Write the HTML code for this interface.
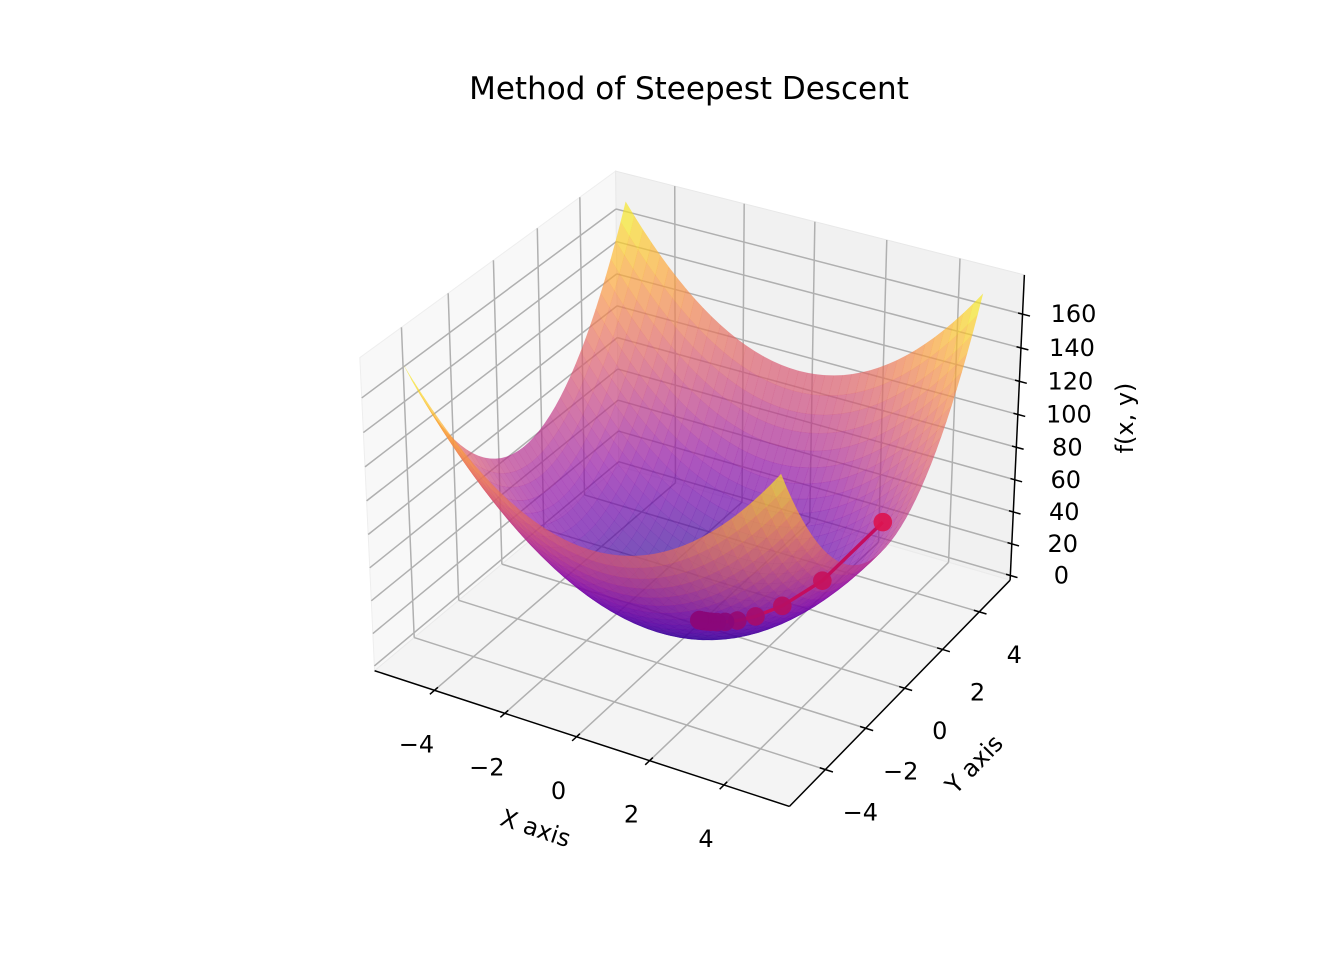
<!DOCTYPE html>
<html><head><meta charset="utf-8"><title>Method of Steepest Descent</title>
<style>html,body{margin:0;padding:0;background:#fff;}svg{display:block;font-family:"DejaVu Sans","Liberation Sans",sans-serif;}</style>
</head><body>
<svg id="chart" xmlns="http://www.w3.org/2000/svg" width="1344" height="960" viewBox="0 0 1344 960">
<rect x="0" y="0" width="1344" height="960" fill="#ffffff"/>
<text x="689" y="99" font-size="31" text-anchor="middle" fill="#000">Method of Steepest Descent</text>
<g id="panes"></g>
<g id="grid"></g>
<g id="surface"></g>
<g id="axes"></g>
<g id="path"></g>
<text x="0" y="0" font-size="24" text-anchor="middle" transform="translate(533,836) rotate(18.4)">X axis</text>
<text x="0" y="0" font-size="24" text-anchor="middle" transform="translate(980,770) rotate(-46)">Y axis</text>
<text x="0" y="0" font-size="24" text-anchor="middle" transform="translate(1133,418) rotate(-90)">f(x, y)</text>
</svg>
<script>
// ---- data ----
const xTicks = [-4, -2, 0, 2, 4];
const yTicks = [-4, -2, 0, 2, 4];
const zTicks = [0, 20, 40, 60, 80, 100, 120, 140, 160];
const coefX = [3];
const coefY = [4];
const pathX = [4, 2.8, 1.96, 1.372, 0.960, 0.672, 0.471, 0.329, 0.231, 0.161, 0.113, 0.079, 0.055, 0.039, 0.027];
const pathY = [2, 1.2, 0.72, 0.432, 0.259, 0.156, 0.093, 0.056, 0.034, 0.020, 0.012, 0.007, 0.004, 0.003, 0.002];
const gridMin = [-5];
const gridMax = [5];

const NS = "http://www.w3.org/2000/svg";
const X0 = -5.73, X1 = 5.73, Y0 = -5.73, Y1 = 5.73, Z0 = -3, Z1 = 183;
function f(x, y) { return coefX[0] * x * x + coefY[0] * y * y; }

// ---- projection (matplotlib-like, elev 30, azim -60) ----
const E = 30 * Math.PI / 180, A = -60 * Math.PI / 180;
const BX = 1.19, BY = 1.19, BZ = 0.893;
const V = [Math.cos(E) * Math.cos(A), Math.cos(E) * Math.sin(A), Math.sin(E)];
const C = [BX / 2, BY / 2, BZ / 2];
const EYE = [C[0] + 10 * V[0], C[1] + 10 * V[1], C[2] + 10 * V[2]];
let U = [-V[1], V[0], 0]; { const n = Math.hypot(U[0], U[1]); U = [U[0] / n, U[1] / n, 0]; }
const W = [V[1] * U[2] - V[2] * U[1], V[2] * U[0] - V[0] * U[2], V[0] * U[1] - V[1] * U[0]];
function raw(x, y, z) {
  const p = [(x - X0) / (X1 - X0) * BX, (y - Y0) / (Y1 - Y0) * BY, (z - Z0) / (Z1 - Z0) * BZ];
  const d = [p[0] - EYE[0], p[1] - EYE[1], p[2] - EYE[2]];
  const depth = -(d[0] * V[0] + d[1] * V[1] + d[2] * V[2]);
  return [(d[0] * U[0] + d[1] * U[1]) / depth, (d[0] * W[0] + d[1] * W[1] + d[2] * W[2]) / depth, depth];
}
const refs = [
  [[X0, Y0, Z0], [374, 672]], [[X1, Y0, Z0], [790, 806]], [[X1, Y1, Z0], [1010, 580]],
  [[X1, Y1, Z1], [1024, 275]], [[X0, Y0, Z1], [360, 356]], [[X0, Y1, Z1], [616, 172]]
];
function solve3(M, b) {
  const a = M.map((r, i) => r.concat([b[i]]));
  for (let i = 0; i < 3; i++) {
    let p = i; for (let k = i + 1; k < 3; k++) if (Math.abs(a[k][i]) > Math.abs(a[p][i])) p = k;
    [a[i], a[p]] = [a[p], a[i]];
    for (let k = 0; k < 3; k++) if (k !== i) { const fct = a[k][i] / a[i][i]; for (let j = i; j < 4; j++) a[k][j] -= fct * a[i][j]; }
  }
  return [a[0][3] / a[0][0], a[1][3] / a[1][1], a[2][3] / a[2][2]];
}
const AtA = [[0, 0, 0], [0, 0, 0], [0, 0, 0]], bx = [0, 0, 0], by = [0, 0, 0];
refs.forEach(r => {
  const q = raw(...r[0]); const v = [q[0], q[1], 1];
  for (let i = 0; i < 3; i++) { for (let j = 0; j < 3; j++) AtA[i][j] += v[i] * v[j]; bx[i] += v[i] * r[1][0]; by[i] += v[i] * r[1][1]; }
});
const CX = solve3(AtA, bx), CY = solve3(AtA, by);
function P(x, y, z) { const q = raw(x, y, z); return [CX[0] * q[0] + CX[1] * q[1] + CX[2], CY[0] * q[0] + CY[1] * q[1] + CY[2], q[2]]; }
function pts(arr) { return arr.map(p => { const s = P(...p); return s[0].toFixed(2) + "," + s[1].toFixed(2); }).join(" "); }
function mk(tag, attrs, parent) { const e = document.createElementNS(NS, tag); for (const k in attrs) e.setAttribute(k, attrs[k]); parent.appendChild(e); return e; }

// ---- panes ----
const gP = document.getElementById("panes");
let e;
e = mk("polygon", { points: pts([[X0, Y0, Z0], [X0, Y1, Z0], [X0, Y1, Z1], [X0, Y0, Z1]]), fill: "#f8f8f8", stroke: "#eeeeee", "stroke-width": 1 }, gP);


e = mk("polygon", { points: pts([[X0, Y1, Z0], [X1, Y1, Z0], [X1, Y1, Z1], [X0, Y1, Z1]]), fill: "#f1f1f1", stroke: "#e8e8e8", "stroke-width": 1 }, gP);


e = mk("polygon", { points: pts([[X0, Y0, Z0], [X1, Y0, Z0], [X1, Y1, Z0], [X0, Y1, Z0]]), fill: "#f4f4f4", stroke: "#ebebeb", "stroke-width": 1 }, gP);



// ---- grid ----
const gG = document.getElementById("grid");
function gl(a, b, name) {
  const s = P(...a), t = P(...b);
  const l = mk("line", { x1: s[0], y1: s[1], x2: t[0], y2: t[1], stroke: "#b0b0b0", "stroke-width": 1.5 }, gG);
  
  
}
xTicks.forEach(x => { gl([x, Y0, Z0], [x, Y1, Z0], 'floor-grid-x'); gl([x, Y1, Z0], [x, Y1, Z1], 'back-grid-x'); });
yTicks.forEach(y => { gl([X0, y, Z0], [X1, y, Z0], 'floor-grid-y'); gl([X0, y, Z0], [X0, y, Z1], 'left-grid-y'); });
zTicks.forEach(z => { gl([X0, Y0, z], [X0, Y1, z], 'left-grid-z'); gl([X0, Y1, z], [X1, Y1, z], 'back-grid-z'); });

// ---- surface ----
const plasma = [[13,8,135],[65,4,157],[106,0,168],[143,13,164],[177,42,144],[204,71,120],[225,100,98],[242,132,75],[252,166,54],[252,206,37],[240,249,33]];
function cmap(t) {
  t = Math.max(0, Math.min(1, t)) * 10; const i = Math.min(9, Math.floor(t)), fr = t - i;
  const a = plasma[i], b = plasma[i + 1];
  return "rgb(" + [0, 1, 2].map(k => Math.round(a[k] + (b[k] - a[k]) * fr)).join(",") + ")";
}
const N = 40, lo = gridMin[0], hi = gridMax[0];
const gv = []; for (let i = 0; i <= N; i++) gv.push(lo + (hi - lo) * i / N);
let zmin = Infinity, zmax = -Infinity;
gv.forEach(x => gv.forEach(y => { const z = f(x, y); zmin = Math.min(zmin, z); zmax = Math.max(zmax, z); }));
const quads = [];
for (let i = 0; i < N; i++) for (let j = 0; j < N; j++) {
  const c = [[gv[i], gv[j]], [gv[i + 1], gv[j]], [gv[i + 1], gv[j + 1]], [gv[i], gv[j + 1]]].map(p => [p[0], p[1], f(p[0], p[1])]);
  const zm = (c[0][2] + c[1][2] + c[2][2] + c[3][2]) / 4;
  const sc = c.map(p => P(...p));
  const dep = (sc[0][2] + sc[1][2] + sc[2][2] + sc[3][2]) / 4;
  quads.push({ sc, zm, dep });
}
quads.sort((a, b) => b.dep - a.dep);
const gS = document.getElementById("surface");
quads.forEach(q => {
  const col = cmap((q.zm - zmin) / (zmax - zmin));
  const pg = mk("polygon", { points: q.sc.map(s => s[0].toFixed(2) + "," + s[1].toFixed(2)).join(" "), fill: col, "fill-opacity": 0.68, stroke: col, "stroke-opacity": 0.25, "stroke-width": 0.4 }, gS);
  
  
});

// ---- axes, ticks, labels ----
const gA = document.getElementById("axes");
function al(a, b, name) {
  const s = P(...a), t = P(...b);
  const l = mk("line", { x1: s[0], y1: s[1], x2: t[0], y2: t[1], stroke: "#000", "stroke-width": 1.5 }, gA);
  
  
}
al([X0, Y0, Z0], [X1, Y0, Z0], 'x-axis-line');
al([X1, Y0, Z0], [X1, Y1, Z0], 'y-axis-line');
al([X1, Y1, Z0], [X1, Y1, Z1], 'z-axis-line');
function lab(x, y, txt, name) {
  const t = mk("text", { x: x, y: y, "font-size": 24, "text-anchor": "middle", fill: "#000" }, gA);
  t.textContent = txt;
  
  
}
const fmt = v => v < 0 ? "\u2212" + Math.abs(v) : String(v);
xTicks.forEach(x => {
  al([x, Y0 + 0.15, Z0], [x, Y0 - 0.2, Z0], 'x-tick');
  const s = P(x, Y0, Z0); lab(s[0] - 18, s[1] + 62, fmt(x), 'x-tick-label');
});
yTicks.forEach(y => {
  al([X1 - 0.15, y, Z0], [X1 + 0.2, y, Z0], 'y-tick');
  const s = P(X1, y, Z0); lab(s[0] + 35, s[1] + 51, fmt(y), 'y-tick-label');
});
zTicks.forEach(z => {
  al([X1 - 0.12, Y1, z], [X1 + 0.2, Y1, z], 'z-tick');
  const s = P(X1, Y1, z); lab(s[0] + 51, s[1] + 8, fmt(z), 'z-tick-label');
});

// ---- descent path ----
const gD = document.getElementById("path");
const pp = pathX.map((x, i) => P(x, pathY[i], f(x, pathY[i])));
const pl = mk("polyline", { points: pp.map(s => s[0].toFixed(2) + "," + s[1].toFixed(2)).join(" "), fill: "none", stroke: "#c40d5e", "stroke-width": 3.4, "stroke-linejoin": "round" }, gD);


const cA = [220, 20, 80], cB = [138, 8, 122];
pp.forEach((s, i) => {
  const t = Math.min(1, Math.pow(i / 5, 0.8));
  const col = "rgb(" + [0, 1, 2].map(k => Math.round(cA[k] + (cB[k] - cA[k]) * t)).join(",") + ")";
  const c = mk("circle", { cx: s[0], cy: s[1], r: 9.3, fill: col, "fill-opacity": 0.92 }, gD);
  
  
});
</script>
</body></html>
